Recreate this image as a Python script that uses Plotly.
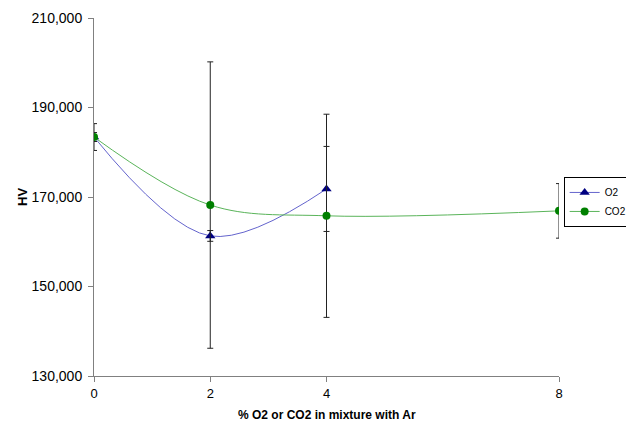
import plotly.graph_objects as go

# Gas content (% in Ar) and hardness readings
x_o2 = [0, 2, 4]
hv_o2 = [183400, 161300, 171800]
err_o2 = [1000, 1200, 9500]

x_co2 = [0, 2, 4, 8]
hv_co2 = [183400, 168200, 165800, 166900]
err_co2 = [3000, 32000, 22700, 6100]

x_ticks = [0, 2, 4, 8]
y_ticks = [130000, 150000, 170000, 190000, 210000]
y_tick_text = ["130,000", "150,000", "170,000", "190,000", "210,000"]

font = "Liberation Sans, Arial, sans-serif"

fig = go.Figure()

fig.add_trace(go.Scatter(
    x=x_o2, y=hv_o2, name="O2", mode="lines+markers",
    line=dict(color="rgb(100,100,205)", width=1, shape="spline", smoothing=1),
    marker=dict(symbol="triangle-up", size=9, color="#000080"),
    error_y=dict(type="data", array=err_o2, color="#222222", thickness=1, width=3),
))

fig.add_trace(go.Scatter(
    x=x_co2, y=hv_co2, name="CO2", mode="lines+markers",
    line=dict(color="rgb(90,180,90)", width=1, shape="spline", smoothing=1),
    marker=dict(symbol="circle", size=8, color="#008000"),
    error_y=dict(type="data", array=err_co2, color="#222222", thickness=1, width=3),
))

axis_common = dict(
    showgrid=False, zeroline=False, showline=True, linecolor="#808080",
    linewidth=1, ticks="outside", ticklen=5, tickcolor="#808080",
)

fig.update_layout(
    width=626, height=429,
    margin=dict(l=94, r=67, t=18, b=53, autoexpand=False),
    paper_bgcolor="white", plot_bgcolor="white",
    font=dict(family=font, color="black"),
    xaxis=dict(range=[0, 8], tickvals=x_ticks,
               tickfont=dict(family=font, size=13, color="black"),
               **axis_common),
    yaxis=dict(range=[130000, 210000], tickvals=y_ticks, ticktext=y_tick_text,
               tickfont=dict(family=font, size=14, color="black"),
               ticklabelstandoff=3, **axis_common),
    legend=dict(
        x=1.010, y=0.556, xanchor="left", yanchor="top",
        bordercolor="black", borderwidth=1, bgcolor="white",
        font=dict(family=font, size=10, color="black"),
        tracegroupgap=0, itemwidth=30,
    ),
    showlegend=True,
    hovermode=False,
    annotations=[
        dict(text="<b>HV</b>", x=0, y=0.5, xref="paper", yref="paper",
             xanchor="center", yanchor="middle", xshift=-72, textangle=-90,
             showarrow=False, font=dict(family=font, size=13, color="black")),
        dict(text="<b>% O2 or CO2 in mixture with Ar</b>", x=0.5, y=0,
             xref="paper", yref="paper", xanchor="center", yanchor="middle",
             yshift=-39, showarrow=False,
             font=dict(family=font, size=12, color="black")),
    ],
)

fig.write_html("out.html")
